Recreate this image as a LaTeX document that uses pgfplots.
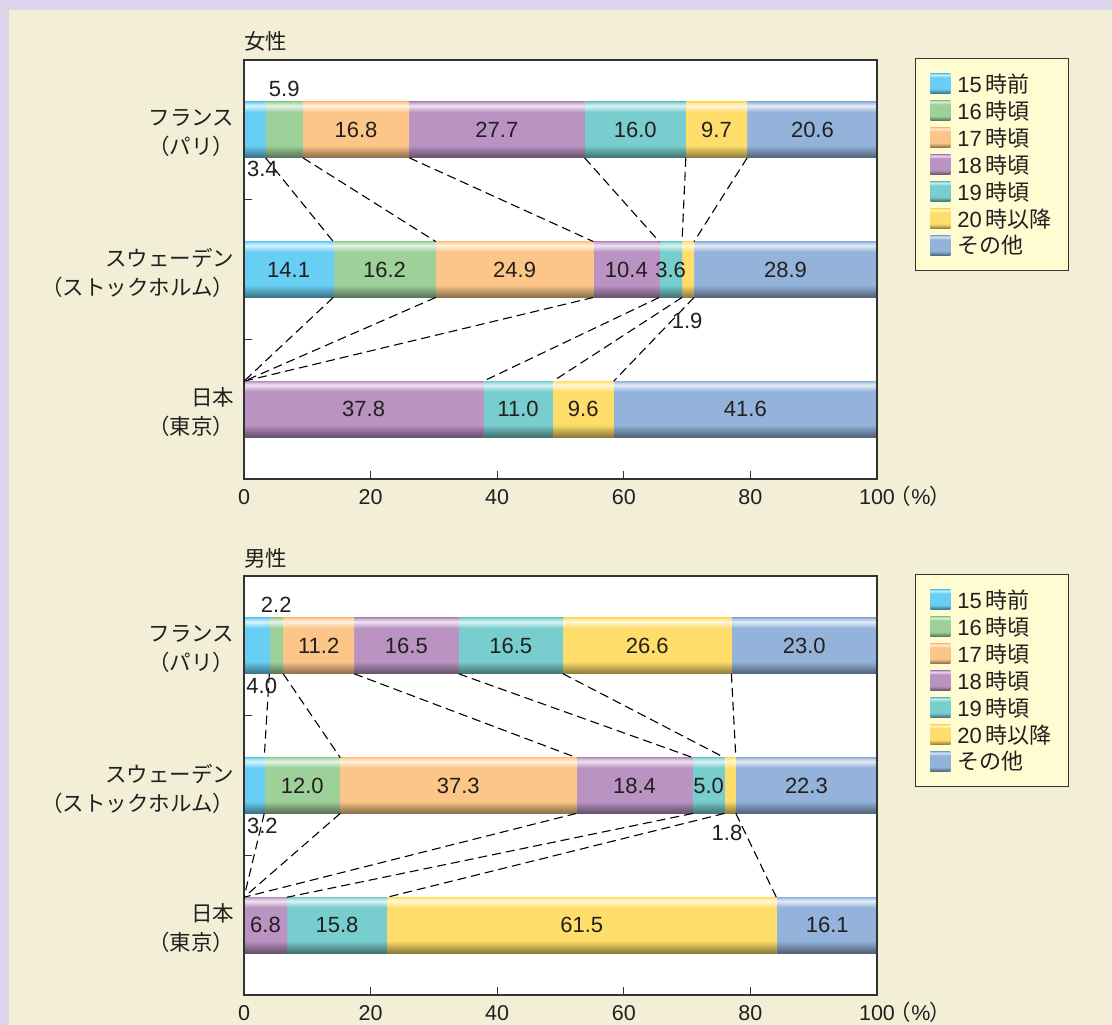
\documentclass[border=0pt]{standalone}
\usepackage{pgfplots}
\pgfplotsset{compat=1.18}
\usepackage{fontspec}
\setmainfont{Liberation Sans}
\newfontfamily\jp{Noto Sans CJK JP}

\definecolor{bglav}{HTML}{DAD5EB}
\definecolor{bgbeige}{HTML}{F3EED6}
\definecolor{legfill}{HTML}{FFFCD2}
\definecolor{frame}{HTML}{333333}
\definecolor{txt}{HTML}{231F20}
\definecolor{cA}{HTML}{68CEF3}
\definecolor{cB}{HTML}{9ED09A}
\definecolor{cC}{HTML}{FCC688}
\definecolor{cD}{HTML}{BA93C2}
\definecolor{cE}{HTML}{78CDCE}
\definecolor{cF}{HTML}{FFDD6B}
\definecolor{cG}{HTML}{93B3DB}

% glossy bar fill: darker lower edge, light streak just below the top
\newcommand\barshading[2]{%
  \pgfdeclareverticalshading{#1}{100bp}{%
    color(0bp)=(#2!55!black);
    color(25bp)=(#2!55!black);
    color(29bp)=(#2!70!black);
    color(36bp)=(#2);
    color(66bp)=(#2);
    color(71.5bp)=(#2!25!white);
    color(74bp)=(#2!70!white);
    color(75bp)=(#2);
    color(100bp)=(#2)}}
\barshading{shA}{cA}
\barshading{shB}{cB}
\barshading{shC}{cC}
\barshading{shD}{cD}
\barshading{shE}{cE}
\barshading{shF}{cF}
\barshading{shG}{cG}

\tikzset{lab/.style={font=\fontsize{22}{24}\selectfont, text=txt, inner sep=1pt}}

\pgfplotsset{
  % common geometry shared by all axes of one panel
  geom/.style={scale only axis, width=633pt, height=419pt,
    xmin=0, xmax=100, ymin=-0.5, ymax=2.5, anchor=south west},
  % one stacked row per axis, so that every bar is shaded on its own
  rowbars/.style={geom, xbar stacked, bar width=0.4, hide axis},
  basebars/.style={geom, xbar stacked, bar width=0.4,
    axis background/.style={fill=white},
    axis line style={draw=none}, ticks=none},
  seg/.style={draw=none, shading=#1},
  % frame, ticks, labels, legend and connectors on top
  frameaxis/.style={geom,
    axis line style={draw=frame, line width=1.1pt},
    xtick={0,20,40,60,80,100},
    xticklabels={0,20,40,60,80,100\rlap{\hspace{-5pt}{\jp（}\%\hspace{-1pt}{\jp）}}},
    xtick pos=bottom, ytick pos=left, tick align=inside,
    ytick={0.5,1.5}, yticklabels={},
    major tick length=8pt,
    tick style={draw=frame, line width=0.9pt},
    extra y ticks={0,1,2},
    extra y tick labels={{日本\\（東京）},{スウェーデン\\（ストックホルム）},{フランス\\（パリ）}},
    extra y tick style={major tick length=0pt,
      yticklabel style={align=right, font=\jp\fontsize{21.5}{29}\selectfont,
        xshift=-6pt, yshift=-3pt, text=txt}},
    xticklabel style={font=\fontsize{21.5}{24}\selectfont, text height=15pt, text depth=4pt,
      yshift=-7pt, text=txt},
    title style={at={(0,1)}, anchor=south west, inner sep=0pt, yshift=2pt,
      font=\jp\fontsize{21.5}{24}\selectfont, text=txt},
    legend style={at={(1,1)}, anchor=north west, xshift=38pt, yshift=2pt,
      fill=legfill, draw=frame, line width=0.9pt, text=txt,
      font=\fontsize{22}{24}\selectfont, inner xsep=15pt, inner ysep=13pt,
      row sep=3pt, cells={anchor=west}},
    legend image code/.code={\path[#1,draw=none] (0pt,-10pt) rectangle (20pt,10pt);
      \path (0pt,0pt) -- (25pt,0pt);},
    legend entries={{15\,\jp 時前},{16\,\jp 時頃},{17\,\jp 時頃},{18\,\jp 時頃},
      {19\,\jp 時頃},{20\,\jp 時以降},{\jp その他}},
  },
  conn/.style={sharp plot, no marks, forget plot,
    draw=black, line width=1.1pt, dash pattern=on 9pt off 5pt},
}

\newcommand\legendswatches{%
  \addlegendimage{seg=shA}\addlegendimage{seg=shB}\addlegendimage{seg=shC}%
  \addlegendimage{seg=shD}\addlegendimage{seg=shE}\addlegendimage{seg=shF}%
  \addlegendimage{seg=shG}}

\begin{document}
\begin{tikzpicture}
\fill[bglav] (0pt,0pt) rectangle (1112pt,-1025pt);
\fill[bgbeige] (9pt,-10pt) rectangle (1112pt,-1025pt);
\path[use as bounding box] (0pt,0pt) rectangle (1112pt,-1025pt);

% ================= women =================
% y: 2 = Paris, 1 = Stockholm, 0 = Tokyo
\begin{axis}[basebars, at={(244pt,-479pt)}]
\addplot[seg=shA] coordinates {(3.4,2)};
\addplot[seg=shB] coordinates {(5.9,2)};
\addplot[seg=shC] coordinates {(16.8,2)};
\addplot[seg=shD] coordinates {(27.7,2)};
\addplot[seg=shE] coordinates {(16.0,2)};
\addplot[seg=shF] coordinates {(9.7,2)};
\addplot[seg=shG] coordinates {(20.6,2)};
\end{axis}
\begin{axis}[rowbars, at={(244pt,-479pt)}]
\addplot[seg=shA] coordinates {(14.1,1)};
\addplot[seg=shB] coordinates {(16.2,1)};
\addplot[seg=shC] coordinates {(24.9,1)};
\addplot[seg=shD] coordinates {(10.4,1)};
\addplot[seg=shE] coordinates {(3.6,1)};
\addplot[seg=shF] coordinates {(1.9,1)};
\addplot[seg=shG] coordinates {(28.9,1)};
\end{axis}
\begin{axis}[rowbars, at={(244pt,-479pt)}]
\addplot[seg=shD] coordinates {(37.8,0)};
\addplot[seg=shE] coordinates {(11.0,0)};
\addplot[seg=shF] coordinates {(9.6,0)};
\addplot[seg=shG] coordinates {(41.6,0)};
\end{axis}
\begin{axis}[frameaxis, at={(244pt,-479pt)}, title={女性}]
\legendswatches
% cumulative boundaries joined between neighbouring bars
\addplot[conn] coordinates {(3.4,1.8) (14.1,1.2)};
\addplot[conn] coordinates {(9.3,1.8) (30.3,1.2)};
\addplot[conn] coordinates {(26.1,1.8) (55.2,1.2)};
\addplot[conn] coordinates {(53.8,1.8) (65.6,1.2)};
\addplot[conn] coordinates {(69.8,1.8) (69.2,1.2)};
\addplot[conn] coordinates {(79.5,1.8) (71.1,1.2)};
\addplot[conn] coordinates {(14.1,0.8) (0,0.2)};
\addplot[conn] coordinates {(30.3,0.8) (0,0.2)};
\addplot[conn] coordinates {(55.2,0.8) (0,0.2)};
\addplot[conn] coordinates {(65.6,0.8) (37.8,0.2)};
\addplot[conn] coordinates {(69.2,0.8) (48.8,0.2)};
\addplot[conn] coordinates {(71.1,0.8) (58.4,0.2)};
% value labels
\node[lab, anchor=west] at (axis cs:0.3,1.72) {3.4};
\node[lab] at (axis cs:6.35,2.29) {5.9};
\node[lab] at (axis cs:17.7,2) {16.8};
\node[lab] at (axis cs:39.95,2) {27.7};
\node[lab] at (axis cs:61.8,2) {16.0};
\node[lab] at (axis cs:74.65,2) {9.7};
\node[lab] at (axis cs:89.8,2) {20.6};
\node[lab] at (axis cs:7.05,1) {14.1};
\node[lab] at (axis cs:22.2,1) {16.2};
\node[lab] at (axis cs:42.75,1) {24.9};
\node[lab] at (axis cs:60.4,1) {10.4};
\node[lab] at (axis cs:67.4,1) {3.6};
\node[lab] at (axis cs:70.0,0.635) {1.9};
\node[lab] at (axis cs:85.55,1) {28.9};
\node[lab] at (axis cs:18.9,0) {37.8};
\node[lab] at (axis cs:43.3,0) {11.0};
\node[lab] at (axis cs:53.6,0) {9.6};
\node[lab] at (axis cs:79.2,0) {41.6};
\end{axis}

% ================= men =================
\begin{axis}[basebars, at={(244pt,-995pt)}]
\addplot[seg=shA] coordinates {(4.0,2)};
\addplot[seg=shB] coordinates {(2.2,2)};
\addplot[seg=shC] coordinates {(11.2,2)};
\addplot[seg=shD] coordinates {(16.5,2)};
\addplot[seg=shE] coordinates {(16.5,2)};
\addplot[seg=shF] coordinates {(26.6,2)};
\addplot[seg=shG] coordinates {(23.0,2)};
\end{axis}
\begin{axis}[rowbars, at={(244pt,-995pt)}]
\addplot[seg=shA] coordinates {(3.2,1)};
\addplot[seg=shB] coordinates {(12.0,1)};
\addplot[seg=shC] coordinates {(37.3,1)};
\addplot[seg=shD] coordinates {(18.4,1)};
\addplot[seg=shE] coordinates {(5.0,1)};
\addplot[seg=shF] coordinates {(1.8,1)};
\addplot[seg=shG] coordinates {(22.3,1)};
\end{axis}
\begin{axis}[rowbars, at={(244pt,-995pt)}]
\addplot[seg=shD] coordinates {(6.8,0)};
\addplot[seg=shE] coordinates {(15.8,0)};
\addplot[seg=shF] coordinates {(61.5,0)};
\addplot[seg=shG] coordinates {(16.1,0)};
\end{axis}
\begin{axis}[frameaxis, at={(244pt,-995pt)}, title={男性}]
\legendswatches
\addplot[conn] coordinates {(4.0,1.8) (3.2,1.2)};
\addplot[conn] coordinates {(6.2,1.8) (15.2,1.2)};
\addplot[conn] coordinates {(17.4,1.8) (52.5,1.2)};
\addplot[conn] coordinates {(33.9,1.8) (70.9,1.2)};
\addplot[conn] coordinates {(50.4,1.8) (75.9,1.2)};
\addplot[conn] coordinates {(77.0,1.8) (77.7,1.2)};
\addplot[conn] coordinates {(3.2,0.8) (0,0.2)};
\addplot[conn] coordinates {(15.2,0.8) (0,0.2)};
\addplot[conn] coordinates {(52.5,0.8) (0,0.2)};
\addplot[conn] coordinates {(70.9,0.8) (6.8,0.2)};
\addplot[conn] coordinates {(75.9,0.8) (22.6,0.2)};
\addplot[conn] coordinates {(77.7,0.8) (84.1,0.2)};
\node[lab, anchor=west] at (axis cs:0.2,1.714) {4.0};
\node[lab] at (axis cs:5.1,2.293) {2.2};
\node[lab] at (axis cs:11.8,2) {11.2};
\node[lab] at (axis cs:25.65,2) {16.5};
\node[lab] at (axis cs:42.15,2) {16.5};
\node[lab] at (axis cs:63.7,2) {26.6};
\node[lab] at (axis cs:88.5,2) {23.0};
\node[lab, anchor=west] at (axis cs:0.3,0.714) {3.2};
\node[lab] at (axis cs:9.2,1) {12.0};
\node[lab] at (axis cs:33.85,1) {37.3};
\node[lab] at (axis cs:61.7,1) {18.4};
\node[lab] at (axis cs:73.4,1) {5.0};
\node[lab] at (axis cs:76.3,0.66) {1.8};
\node[lab] at (axis cs:88.85,1) {22.3};
\node[lab] at (axis cs:3.4,0) {6.8};
\node[lab] at (axis cs:14.7,0) {15.8};
\node[lab] at (axis cs:53.35,0) {61.5};
\node[lab] at (axis cs:92.15,0) {16.1};
\end{axis}
\end{tikzpicture}
\end{document}
